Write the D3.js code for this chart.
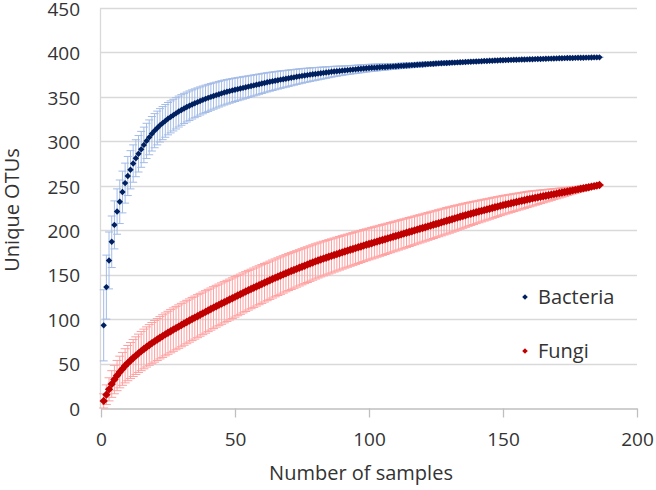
<!DOCTYPE html>
<html><head><meta charset="utf-8">
<script src="https://cdn.jsdelivr.net/npm/d3@7"></script>
<style>
body{margin:0;background:#fff}
text{font-family:"Open Sans",sans-serif;fill:#333}
</style>
</head><body>
<svg id="chart" width="656" height="490"></svg>
<script>
// Rarefaction means (sample 1..186)
const bacteria = [93,136,166,187,206,221,232,243,253,261,
268,275,281,286,291,296,300.5,304.5,308.5,312,
315,318,320.5,323,325.5,327.5,329.5,331.5,333.5,335.3,
337,338.6,340.1,341.5,342.8,344.1,345.4,346.6,347.8,348.9,
350,351,352,353,354,354.9,355.7,356.5,357.3,358,
358.7,359.4,360.1,360.8,361.5,362.2,362.9,363.6,364.3,365,
365.7,366.4,367,367.6,368.2,368.8,369.4,369.9,370.4,371,
371.5,372,372.6,373.1,373.6,374.1,374.5,375,375.4,375.8,
376.2,376.6,377,377.4,377.8,378.2,378.6,378.9,379.2,379.5,
379.8,380.1,380.4,380.7,381,381.3,381.6,381.9,382.2,382.5,
382.7,382.9,383.1,383.3,383.5,383.7,383.9,384.1,384.3,384.5,
384.7,384.9,385.1,385.3,385.5,385.7,385.9,386.1,386.3,386.5,
386.7,386.9,387.1,387.3,387.5,387.7,387.9,388,388.2,388.3,
388.5,388.6,388.8,388.9,389.1,389.2,389.4,389.5,389.7,389.8,
390,390.1,390.3,390.4,390.6,390.7,390.9,391,391.2,391.3,
391.4,391.5,391.6,391.7,391.8,391.9,392,392.1,392.2,392.3,
392.4,392.5,392.6,392.7,392.8,392.9,393,393.1,393.2,393.3,
393.4,393.5,393.6,393.7,393.8,393.8,393.9,394,394,394.1,
394.2,394.2,394.3,394.4,394.4,394.5];

const bacteriaErr = [40,36,32,29,27,25.5,24.5,23.5,22.5,22,
21.5,21,20.8,20.5,20.2,20,19.8,19.6,19.4,19.2,
19,18.8,18.6,18.4,18.2,18,17.8,17.6,17.4,17.2,
17,16.8,16.6,16.4,16.2,16,15.8,15.6,15.4,15.2,
15,14.8,14.6,14.4,14.2,14,13.8,13.6,13.4,13.2,
13,12.8,12.6,12.4,12.2,12,11.8,11.6,11.4,11.2,
11,10.8,10.6,10.4,10.2,10,9.8,9.6,9.4,9.2,
9,8.8,8.6,8.4,8.2,8,7.8,7.6,7.4,7.2,
7,6.8,6.6,6.4,6.2,6,5.8,5.6,5.4,5.2,
5,4.9,4.8,4.7,4.6,4.5,4.4,4.3,4.2,4.1,
4,3.9,3.8,3.7,3.6,3.5,3.4,3.3,3.2,3.1,
3,3,2.9,2.9,2.8,2.8,2.7,2.7,2.6,2.6,
2.5,2.5,2.4,2.4,2.3,2.3,2.2,2.2,2.1,2.1,
2,2,1.9,1.9,1.8,1.8,1.7,1.7,1.6,1.6,
1.5,1.5,1.5,1.4,1.4,1.4,1.3,1.3,1.3,1.2,
1.2,1.2,1.1,1.1,1.1,1,1,1,0.9,0.9,
0.9,0.8,0.8,0.8,0.7,0.7,0.7,0.6,0.6,0.6,
0.5,0.5,0.5,0.4,0.4,0.4,0.3,0.3,0.3,0.2,
0.2,0.2,0.1,0.1,0.1,0];

const fungi = [8,15,21,27,32,36.5,40.5,44,47.5,50.5,
53.4,56.2,58.9,61.5,64,66.4,68.7,70.9,73,75,
77,79,80.9,82.8,84.6,86.4,88.2,89.9,91.6,93.3,
95,96.7,98.4,100.1,101.7,103.3,104.9,106.5,108.1,109.7,
111.3,112.9,114.5,116,117.5,119,120.5,122,123.5,125,
126.5,128,129.5,131,132.5,133.9,135.3,136.7,138.1,139.5,
140.9,142.3,143.7,145.1,146.4,147.7,149,150.3,151.6,152.9,
154.1,155.3,156.5,157.7,158.9,160.1,161.3,162.5,163.7,164.9,
166,167.1,168.1,169.1,170.1,171.1,172.1,173.1,174.1,175.1,
176.1,177,178,178.9,179.9,180.8,181.7,182.7,183.6,184.5,
185.4,186.3,187.2,188.1,189,189.9,190.8,191.7,192.6,193.5,
194.4,195.3,196.2,197.1,198,198.9,199.8,200.7,201.6,202.5,
203.4,204.3,205.2,206.1,207,207.9,208.8,209.7,210.6,211.5,
212.4,213.3,214.2,215.1,216,216.9,217.8,218.6,219.4,220.2,
221,221.8,222.6,223.4,224.2,225,225.8,226.6,227.4,228.2,
228.9,229.6,230.3,231,231.7,232.4,233.1,233.8,234.5,235.2,
235.8,236.4,237,237.6,238.2,238.8,239.4,240,240.6,241.2,
241.8,242.4,243,243.6,244.2,244.8,245.4,246,246.6,247.2,
247.8,248.4,249,249.6,250.2,250.8];

const fungiErr = [8,11,13,15,16,17,17.8,18.5,19.2,19.8,
20.3,20.8,21.2,21.6,22,22.3,22.6,22.9,23.2,23.4,
23.6,23.8,24,24.1,24.2,24.3,24.4,24.4,24.4,24.4,
24.4,24.4,24.3,24.3,24.2,24.2,24.1,24,23.9,23.8,
23.7,23.6,23.5,23.4,23.3,23.2,23.1,23,22.9,22.8,
22.7,22.6,22.5,22.4,22.3,22.2,22.1,22,21.9,21.8,
21.7,21.6,21.5,21.4,21.3,21.2,21.1,21,20.9,20.8,
20.7,20.6,20.5,20.4,20.3,20.2,20.1,20,19.9,19.8,
19.7,19.6,19.5,19.4,19.3,19.2,19.1,19,18.9,18.8,
18.7,18.6,18.5,18.4,18.3,18.2,18.1,18,17.9,17.8,
17.7,17.6,17.5,17.4,17.3,17.2,17.1,17,16.9,16.8,
16.7,16.6,16.5,16.4,16.3,16.2,16.1,16,15.9,15.8,
15.7,15.6,15.5,15.4,15.3,15.2,15.1,15,14.9,14.8,
14.6,14.4,14.2,14,13.8,13.6,13.4,13.2,13,12.8,
12.6,12.4,12.2,12,11.8,11.6,11.4,11.2,11,10.8,
10.6,10.4,10.2,10,9.8,9.6,9.4,9.2,9,8.8,
8.5,8.2,7.9,7.6,7.3,7,6.7,6.4,6.1,5.8,
5.5,5.2,4.9,4.6,4.3,4,3.7,3.4,3.1,2.8,
2.4,2,1.6,1.2,0.6,0];

const xTicks = [0,50,100,150,200];
const yTicks = [0,50,100,150,200,250,300,350,400,450];
const seriesNames = ["Bacteria","Fungi"];

const svg = d3.select("#chart");
const x = d3.scaleLinear().domain([0,200]).range([101,637]);
const y = d3.scaleLinear().domain([0,450]).range([408,8]);

// gridlines
svg.append("g").selectAll("line").data(yTicks.filter(d=>d>0)).join("line")
  .attr("x1",x(0)-1).attr("x2",x(200)).attr("y1",d=>Math.round(y(d))+0.5).attr("y2",d=>Math.round(y(d))+0.5)
  .attr("stroke","#d9d9d9").attr("stroke-width",1.3);

// y axis
const ya = svg.append("g").attr("transform",`translate(${x(0)-1},0)`)
  .call(d3.axisLeft(y).tickValues(yTicks).tickSize(0).tickPadding(20));
ya.select(".domain").attr("stroke","#d9d9d9").attr("stroke-width",1.3);
ya.selectAll("text").style("font-size","19px").attr("fill","#333").attr("dy","0.38em");

// x axis
const xa = svg.append("g").attr("transform",`translate(0,${Math.round(y(0))+0.5})`)
  .call(d3.axisBottom(x).tickValues(xTicks).tickSize(9).tickPadding(15).tickSizeOuter(0));
xa.select(".domain").attr("stroke","#bfbfbf").attr("stroke-width",1.3);
xa.selectAll(".tick line").attr("stroke","#bfbfbf").attr("stroke-width",1.3);
xa.selectAll("text").style("font-size","19px").attr("fill","#333");

// titles
svg.append("text").attr("x",361).attr("y",480).attr("text-anchor","middle")
  .style("font-size","20px").text("Number of samples");
svg.append("text").attr("transform","translate(19,210) rotate(-90)").attr("text-anchor","middle")
  .style("font-size","20px").text("Unique OTUs");

const diamond = s => `M0,${-s}L${s},0L0,${s}L${-s},0Z`;

function drawSeries(vals, errs, barColor, markColor, cap, ms){
  const g = svg.append("g");
  const pts = vals.map((v,i)=>({n:i+1,v:v,e:errs[i]}));
  const eb = g.append("g").attr("stroke",barColor).attr("stroke-width",1).attr("fill","none");
  eb.selectAll("path").data(pts).join("path")
    .attr("d",d=>{
      const cx=x(d.n), y1=y(d.v+d.e), y2=y(d.v-d.e);
      return `M${cx},${y1}V${y2}M${cx-cap/2},${y1}H${cx+cap/2}M${cx-cap/2},${y2}H${cx+cap/2}`;
    });
  g.append("g").selectAll("path").data(pts).join("path")
    .attr("transform",d=>`translate(${x(d.n)},${y(d.v)})`)
    .attr("d",diamond(ms)).attr("fill",markColor);
}
drawSeries(bacteria, bacteriaErr, "#a3bbe6", "#002060", 8, 3.2);
drawSeries(fungi, fungiErr, "#ffa0a0", "#c00000", 9, 4.2);

// legend
const legend = svg.append("g");
const lc = ["#002060","#c00000"];
const ly = [297,351];
seriesNames.forEach((n,i)=>{
  legend.append("path").attr("transform",`translate(525,${ly[i]})`).attr("d",diamond(2.8)).attr("fill",lc[i]);
  legend.append("text").attr("x",538).attr("y",ly[i]).attr("dy","0.35em").style("font-size","20px").text(n);
});
</script>
</body></html>
